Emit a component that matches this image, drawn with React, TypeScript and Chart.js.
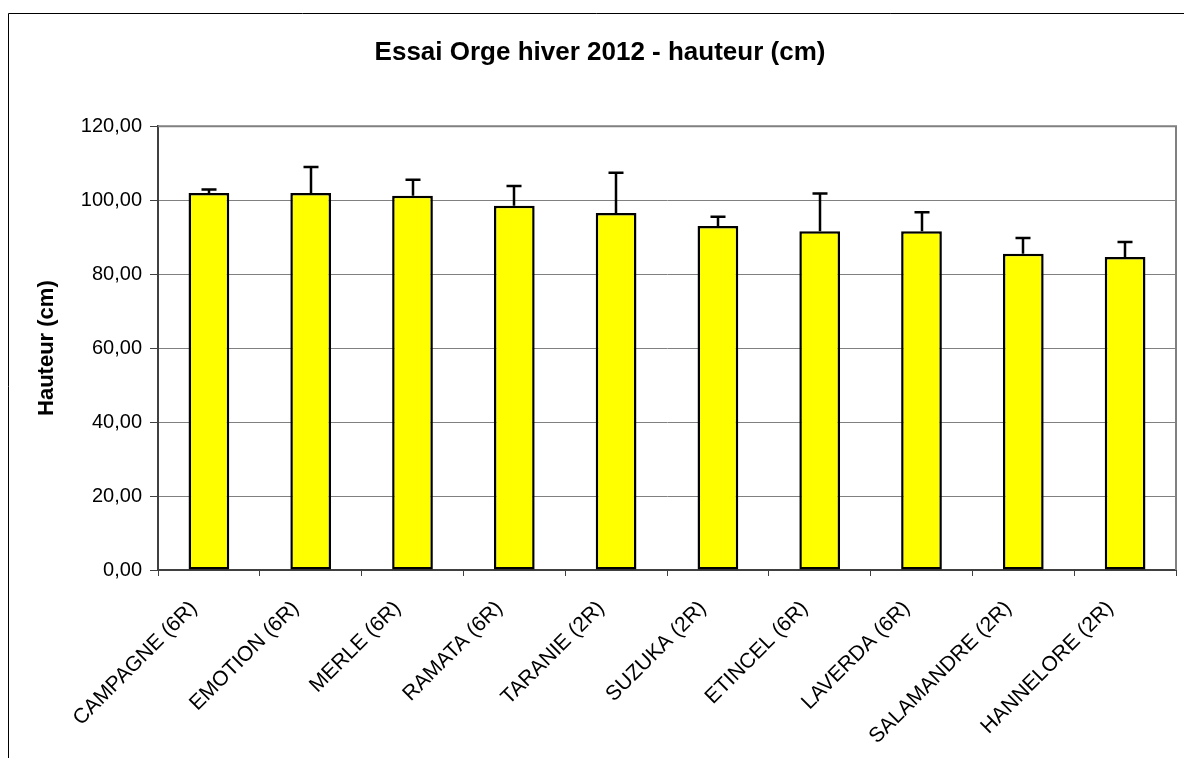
import React, { useEffect, useRef } from "react";
import { Chart, registerables } from "chart.js";

Chart.register(...registerables);

const categories = [
  "CAMPAGNE (6R)",
  "EMOTION (6R)",
  "MERLE (6R)",
  "RAMATA (6R)",
  "TARANIE (2R)",
  "SUZUKA (2R)",
  "ETINCEL (6R)",
  "LAVERDA (6R)",
  "SALAMANDRE (2R)",
  "HANNELORE (2R)",
];
const heights = [101.95, 101.95, 101.2, 98.5, 96.5, 93.0, 91.6, 91.6, 85.5, 84.6];
const errorsUp = [0.95, 7.0, 4.3, 5.3, 10.9, 2.5, 10.2, 5.1, 4.3, 4.1];
const yMin = 0;
const yMax = 120;
const yStep = 20;

const chartTitle = "Essai Orge hiver 2012 - hauteur (cm)";
const yAxisTitle = "Hauteur (cm)";

const FONT = "'Liberation Sans', Arial, sans-serif";

const framePlugin = {
  id: "frame",
  beforeDraw(chart: any) {
    const { ctx, width, height } = chart;
    ctx.save();
    ctx.fillStyle = "#ffffff";
    ctx.fillRect(0, 0, width, height);
    ctx.strokeStyle = "#000000";
    ctx.lineWidth = 1;
    ctx.beginPath();
    ctx.moveTo(8.5, height + 2);
    ctx.lineTo(8.5, 13.5);
    ctx.lineTo(width + 2, 13.5);
    ctx.stroke();
    ctx.restore();
  },
};

const plotBorderPlugin = {
  id: "plotBorder",
  beforeDatasetsDraw(chart: any) {
    const { ctx, chartArea } = chart;
    ctx.save();
    ctx.strokeStyle = "#808080";
    ctx.lineWidth = 2;
    ctx.beginPath();
    ctx.moveTo(chartArea.left, chartArea.top);
    ctx.lineTo(chartArea.right, chartArea.top);
    ctx.lineTo(chartArea.right, chartArea.bottom);
    ctx.stroke();
    ctx.restore();
  },
};

const errorBarPlugin = {
  id: "errorBars",
  afterDatasetsDraw(chart: any) {
    const { ctx } = chart;
    const meta = chart.getDatasetMeta(0);
    const yScale = chart.scales.y;
    ctx.save();
    ctx.strokeStyle = "#000000";
    ctx.lineWidth = 2.5;
    meta.data.forEach((bar: any, i: number) => {
      const x = Math.round(bar.x);
      const yBase = yScale.getPixelForValue(heights[i]);
      const yTop = yScale.getPixelForValue(heights[i] + errorsUp[i]);
      ctx.beginPath();
      ctx.moveTo(x, yBase);
      ctx.lineTo(x, yTop);
      ctx.moveTo(x - 7.5, yTop);
      ctx.lineTo(x + 7.5, yTop);
      ctx.stroke();
    });
    ctx.restore();
  },
};

function BarChart() {
  const canvasRef = useRef<HTMLCanvasElement | null>(null);

  useEffect(() => {
    if (!canvasRef.current) return;
    Chart.defaults.font.family = FONT;
    Chart.defaults.color = "#000000";
    const chart = new Chart(canvasRef.current, {
      type: "bar",
      data: {
        labels: categories,
        datasets: [
          {
            label: "Hauteur",
            data: heights,
            backgroundColor: "#ffff00",
            borderColor: "#000000",
            borderWidth: 2.5,
            borderSkipped: false,
            barPercentage: 0.4,
            categoryPercentage: 1,
          },
        ],
      },
      options: {
        responsive: false,
        animation: false,
        devicePixelRatio: 1,
        layout: { padding: { left: 24, right: 8, top: 0, bottom: 0 } },
        plugins: {
          legend: { display: false },
          tooltip: { enabled: false },
          title: {
            display: true,
            text: chartTitle,
            color: "#000000",
            font: { family: FONT, size: 26, weight: "bold" },
            padding: { top: 37, bottom: 58 },
          },
        },
        scales: {
          x: {
            grid: {
              display: true,
              offset: true,
              drawOnChartArea: false,
              drawTicks: true,
              tickLength: 6,
              tickColor: "#404040",
              tickWidth: 1,
            },
            border: { display: true, color: "#404040", width: 2 },
            ticks: {
              autoSkip: false,
              minRotation: 45,
              maxRotation: 45,
              padding: 20,
              labelOffset: -15,
              color: "#000000",
              font: { family: FONT, size: 21 },
            },
            afterFit(scale: any) {
              scale.height = 188;
            },
          },
          y: {
            min: yMin,
            max: yMax,
            ticks: {
              stepSize: yStep,
              padding: 8,
              color: "#000000",
              font: { family: FONT, size: 20 },
              callback: (v: any) => Number(v).toFixed(2).replace(".", ","),
            },
            grid: {
              color: "#808080",
              lineWidth: 1,
              drawTicks: true,
              tickLength: 8,
              tickColor: "#404040",
              tickWidth: 1,
            },
            border: { display: true, color: "#404040", width: 2 },
            title: {
              display: true,
              text: yAxisTitle,
              color: "#000000",
              font: { family: FONT, size: 22, weight: "bold" },
              padding: { top: 10, bottom: 0 },
            },
            afterFit(scale: any) {
              scale.width = 134;
            },
          },
        },
      },
      plugins: [framePlugin, plotBorderPlugin, errorBarPlugin],
    });
    return () => chart.destroy();
  }, []);

  return <canvas ref={canvasRef} width={1184} height={758} style={{ display: "block" }} />;
}

export default function App() {
  return (
    <div style={{ position: "fixed", left: 0, top: 0, width: 1184, height: 758, background: "#fff" }}>
      <BarChart />
    </div>
  );
}
